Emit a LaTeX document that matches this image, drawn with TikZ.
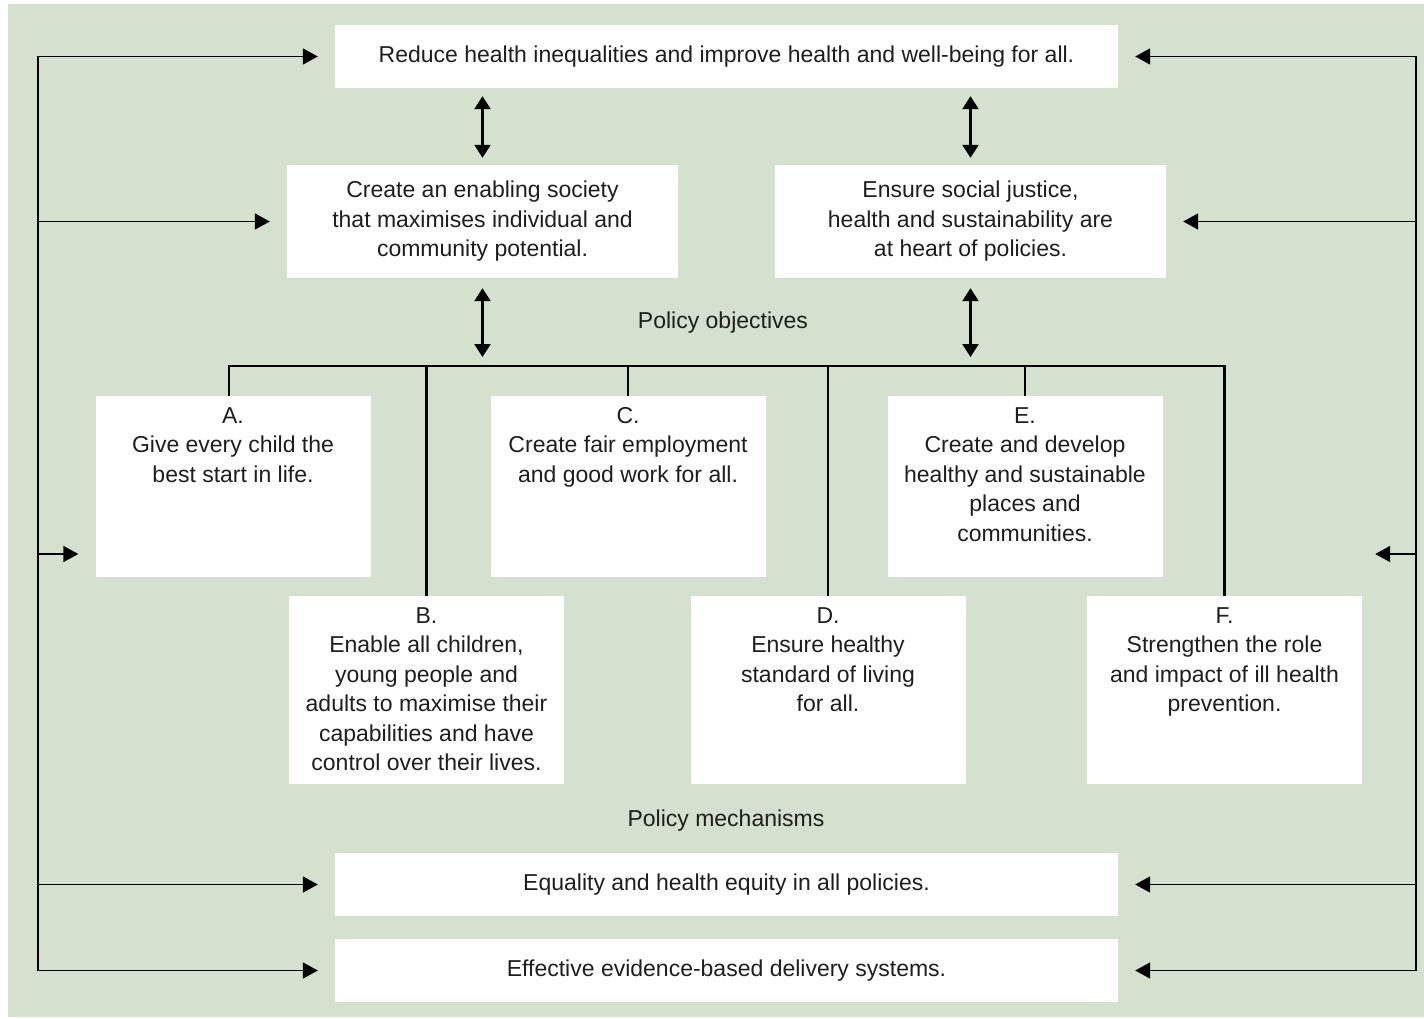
\documentclass[tikz,border=0pt]{standalone}
\usepackage{fontspec}
\setmainfont{Liberation Sans}
\usetikzlibrary{arrows.meta,positioning}
\definecolor{sage}{RGB}{211,225,206}
\definecolor{ink}{RGB}{30,30,30}

\begin{document}
\begin{tikzpicture}[
x=1pt,y=-1pt,
every node/.style={font=\fontsize{23}{29.5}\selectfont,text=ink},
wide/.style={fill=white,minimum width=783pt,minimum height=63pt,inner sep=0pt},
objbox/.style={fill=white,minimum width=391pt,minimum height=113pt,align=center,inner sep=0pt},
polbox/.style={fill=white,anchor=north,minimum width=275pt,minimum height=#1,inner sep=0pt},
poltext/.style={align=center,inner sep=0pt,anchor=north},
fb/.style={line width=1.6pt,-{Triangle[length=15pt,width=16pt]},shorten >=17pt},
dbl/.style={line width=2.4pt,{Triangle[length=13pt,width=16pt]}-{Triangle[length=13pt,width=16pt]}},
bus/.style={line width=2.2pt},
]
\useasboundingbox (0,0) rectangle (1424,1019);
\fill[sage] (8,4) rectangle (1424,1017);

% goal and objectives
\node[wide] (goal) at (726.5,56.5) {Reduce health inequalities and improve health and well-being for all.};
\node[objbox] (enable) at (482.5,221.5) {Create an enabling society\\that maximises individual and\\community potential.};
\node[objbox] (justice) at (970.5,221.5) {Ensure social justice,\\health and sustainability are\\at heart of policies.};
\node (objlabel) at (723,323) {Policy objectives};

% policy boxes
\node[polbox=181pt] (A) at (233,396) {};
\node[poltext,below=11pt of A.north] (Atext) {A.\\Give every child the\\best start in life.};
\node[polbox=181pt] (C) at (628,396) {};
\node[poltext,below=11pt of C.north] (Ctext) {C.\\Create fair employment\\and good work for all.};
\node[polbox=181pt] (E) at (1025,396) {};
\node[poltext,below=11pt of E.north] (Etext) {E.\\Create and develop\\healthy and sustainable\\places and\\communities.};
\node[polbox=188pt] (B) at (426.5,596) {};
\node[poltext,below=11pt of B.north] (Btext) {B.\\Enable all children,\\young people and\\adults to maximise their\\capabilities and have\\control over their lives.};
\node[polbox=188pt] (D) at (828,596) {};
\node[poltext,below=11pt of D.north] (Dtext) {D.\\Ensure healthy\\standard of living\\for all.};
\node[polbox=188pt] (F) at (1224.5,596) {};
\node[poltext,below=11pt of F.north] (Ftext) {F.\\Strengthen the role\\and impact of ill health\\prevention.};

% mechanisms
\node (mechlabel) at (726,821) {Policy mechanisms};
\node[wide] (equity) at (726.5,884.5) {Equality and health equity in all policies.};
\node[wide] (delivery) at (726.5,970.5) {Effective evidence-based delivery systems.};

% bus to the six boxes
\coordinate (bus) at (0,366);
\draw[bus] (A.north) ++(-4,0) |- (F.north |- bus) -- (F.north);
\foreach \n in {B,C,D,E}
  \draw[bus] (\n.north) -- (\n.north |- bus);

% two-way links
\foreach \n in {enable,justice} {
  \draw[dbl,shorten <=8pt,shorten >=7pt] (goal.south -| \n.north) -- (\n.north);
  \draw[dbl,shorten <=10pt,shorten >=9pt] (\n.south) -- (\n.south |- bus);
}

% feedback lines
\coordinate (lft) at (38,1.5);
\coordinate (rgt) at (1416,1.5);
\coordinate (midA) at (38,554);
\coordinate (midF) at (1416,554);
\draw[line width=1.6pt] (lft |- goal) -- (lft |- delivery);
\draw[line width=1.6pt] (rgt |- goal) -- (rgt |- delivery);
\foreach \n in {goal,enable,equity,delivery}
  \draw[fb] (lft |- \n) -- (\n);
\foreach \n in {goal,justice,equity,delivery}
  \draw[fb] (rgt |- \n) -- (\n);
\draw[fb] (midA) -- (midA -| A.west);
\draw[fb,shorten >=13pt] (midF) -- (midF -| F.east);
\end{tikzpicture}
\end{document}
